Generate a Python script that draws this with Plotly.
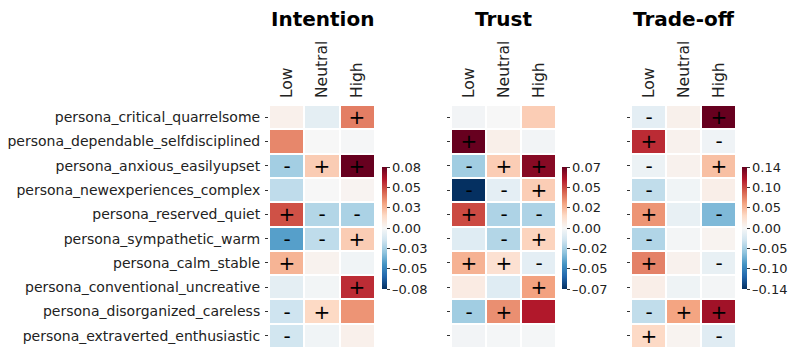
import numpy as np
import plotly.graph_objects as go

personas = [
    "persona_critical_quarrelsome",
    "persona_dependable_selfdisciplined",
    "persona_anxious_easilyupset",
    "persona_newexperiences_complex",
    "persona_reserved_quiet",
    "persona_sympathetic_warm",
    "persona_calm_stable",
    "persona_conventional_uncreative",
    "persona_disorganized_careless",
    "persona_extraverted_enthusiastic",
]
levels = ["Low", "Neutral", "High"]
panel_titles = ["Intention", "Trust", "Trade-off"]

intention_vals = [
    [0.004, -0.008, 0.040],
    [0.038, 0.000, -0.001],
    [-0.027, 0.020, 0.078],
    [-0.020, 0.000, 0.002],
    [0.050, -0.023, -0.025],
    [-0.043, -0.020, 0.020],
    [0.027, 0.003, -0.003],
    [-0.008, -0.002, 0.058],
    [-0.016, 0.016, 0.035],
    [-0.015, -0.003, 0.004],
]
intention_signs = [
    ["", "", "+"],
    ["", "", ""],
    ["-", "+", "+"],
    ["", "", ""],
    ["+", "-", "-"],
    ["-", "-", "+"],
    ["+", "", ""],
    ["", "", "+"],
    ["-", "+", ""],
    ["-", "", ""],
]
trust_vals = [
    [-0.002, 0.000, 0.018],
    [0.071, 0.004, -0.002],
    [-0.025, 0.018, 0.065],
    [-0.071, -0.007, 0.018],
    [0.047, -0.022, -0.022],
    [-0.009, -0.021, 0.016],
    [0.025, 0.011, -0.007],
    [0.006, -0.009, 0.029],
    [-0.025, 0.033, 0.057],
    [-0.002, -0.001, -0.001],
]
trust_signs = [
    ["", "", ""],
    ["+", "", ""],
    ["-", "+", "+"],
    ["-", "-", "+"],
    ["+", "-", "-"],
    ["", "-", "+"],
    ["+", "+", "-"],
    ["", "", "+"],
    ["-", "+", ""],
    ["", "", ""],
]
tradeoff_vals = [
    [-0.014, 0.007, 0.143],
    [0.107, 0.006, -0.006],
    [-0.008, 0.006, 0.043],
    [-0.036, -0.005, 0.009],
    [0.064, -0.011, -0.064],
    [-0.043, -0.003, 0.004],
    [0.072, 0.006, -0.011],
    [0.009, -0.007, -0.003],
    [-0.036, 0.057, 0.121],
    [0.029, 0.004, -0.017],
]
tradeoff_signs = [
    ["-", "", "+"],
    ["+", "", "-"],
    ["-", "", "+"],
    ["-", "", ""],
    ["+", "", "-"],
    ["-", "", ""],
    ["+", "", "-"],
    ["", "", ""],
    ["-", "+", "+"],
    ["+", "", "-"],
]
vmax_list = [0.078, 0.071, 0.143]

rdbu_r = [
    "rgb(5,48,97)", "rgb(33,102,172)", "rgb(67,147,195)", "rgb(146,197,222)",
    "rgb(209,229,240)", "rgb(247,247,247)", "rgb(253,219,199)", "rgb(244,165,130)",
    "rgb(214,96,77)", "rgb(178,24,43)", "rgb(103,0,31)",
]
cscale = [[i / 10, c] for i, c in enumerate(rdbu_r)]

OFF = 8  # default page body margin
W, H = 800 - 2 * OFF, 356 - 2 * OFF
ML, MR, MT, MB = 0, 44, 0, 0
PW, PH = W - ML - MR, H - MT - MB


def px_x(p):
    return (p - OFF - ML) / PW


def px_y(p):
    return (H - MB - (p - OFF)) / PH


x_px = [(269, 375), (451, 556), (631, 736)]
cb_x = [382, 562, 742]
y_top, y_bot = 105, 348
cb_top, cb_bot = 167, 289

fig = go.Figure()
data = [(intention_vals, intention_signs), (trust_vals, trust_signs), (tradeoff_vals, tradeoff_signs)]
font_family = "DejaVu Sans"
for i, ((vals, signs), vmax) in enumerate(zip(data, vmax_list)):
    ax = "" if i == 0 else str(i + 1)
    ticks = np.linspace(vmax, -vmax, 7)
    labels = []
    for t in ticks:
        s = f"{abs(t):.2f}"
        labels.append(("\u2013" + s) if t < -1e-9 else s)
    fig.add_trace(go.Heatmap(
        z=vals, x=levels, y=personas, text=signs, texttemplate="%{text}",
        textfont=dict(size=20, color="black", family=font_family),
        colorscale=cscale, zmin=-vmax, zmax=vmax, xgap=2, ygap=2,
        xaxis="x" + ax, yaxis="y" + ax, hoverinfo="skip",
        colorbar=dict(
            x=px_x(cb_x[i]), xanchor="left", y=px_y((cb_top + cb_bot) / 2), yanchor="middle",
            len=(cb_bot - cb_top) / PH, lenmode="fraction", thickness=5,
            xpad=0, ypad=0, outlinewidth=0,
            tickvals=list(ticks), ticktext=labels,
            ticks="outside", ticklen=3, tickcolor="#333",
            tickfont=dict(size=13, color="#222", family=font_family),
        ),
    ))
    dom_x = [px_x(x_px[i][0]), px_x(x_px[i][1])]
    dom_y = [px_y(y_bot), px_y(y_top)]
    fig.update_layout(**{
        "xaxis" + ax: dict(domain=dom_x, side="top", tickangle=-90, anchor="y" + ax,
                           tickfont=dict(size=15.5, color="#222", family=font_family),
                           showgrid=False, zeroline=False, ticks="", automargin=False,
                           ticklabelstandoff=6),
        "yaxis" + ax: dict(domain=dom_y, autorange="reversed", anchor="x" + ax,
                           showticklabels=(i == 0), ticks="outside", ticklen=3, tickcolor="#333",
                           tickfont=dict(size=14, color="#222", family=font_family),
                           showgrid=False, zeroline=False, automargin=False,
                           ticklabelstandoff=2),
    })
    fig.add_annotation(text="<b>" + panel_titles[i] + "</b>", x=sum(dom_x) / 2, y=px_y(19),
                       xref="paper", yref="paper", showarrow=False, xanchor="center", yanchor="middle",
                       font=dict(size=20, color="black", family=font_family))

fig.update_layout(width=W, height=H, margin=dict(l=ML, r=MR, t=MT, b=MB, autoexpand=False),
                  plot_bgcolor="white", paper_bgcolor="white", showlegend=False)
fig.write_html("out.html")
